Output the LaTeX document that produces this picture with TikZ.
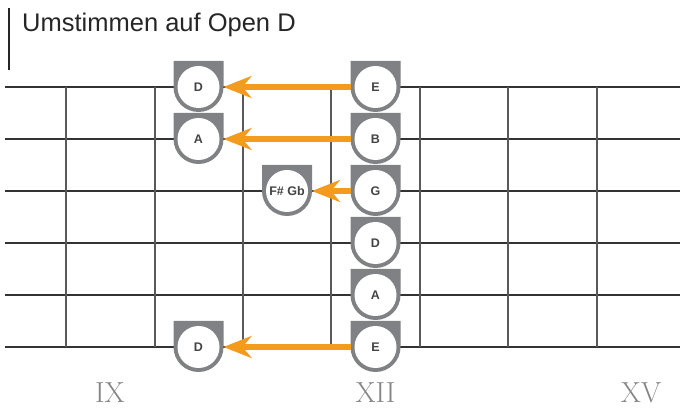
\documentclass[tikz,border=0pt]{standalone}
\usepackage{fontspec}
\setmainfont{Liberation Sans}
\newfontfamily\numfont{Latin Modern Roman}
\usetikzlibrary{arrows.meta}
\definecolor{mkgray}{HTML}{808184}
\definecolor{txgray}{HTML}{444444}
\definecolor{orng}{HTML}{F39A1F}
\definecolor{numgray}{HTML}{858585}
\tikzset{
  stringline/.style={draw=black!80, line width=1.4pt},
  fretline/.style={draw=black!65, line width=1.8pt},
  notec/.style={circle, fill=white, minimum size=42pt, inner sep=0pt, outer sep=4pt,
     font=\fontsize{12.5}{13}\selectfont\bfseries, text=txgray},
  arr/.style={draw=orng, line width=6pt, -{Stealth[length=28pt, width=22pt, inset=9pt]}},
  roman/.style={font=\numfont\fontsize{29}{30}\selectfont, text=numgray, anchor=base, inner sep=0pt},
}
\newcommand{\mkr}[4]{%
  \fill[mkgray] (#2-25,#3) -- (#2-25,#3+26) -- (#2+25,#3+26) -- (#2+25,#3)
     arc[start angle=0, end angle=-180, radius=25pt] -- cycle;
  \node[notec] (#1) at (#2,#3) {#4};
}
\begin{document}
\begin{tikzpicture}[x=1pt,y=1pt]
\useasboundingbox (0,0) rectangle (680,407);
% title
\draw[draw=black!85, line width=2.2pt] (9,399) -- (9,337);
\node[anchor=base west, inner sep=0pt, font=\fontsize{25.5}{27}\selectfont, text=black!85] (title) at (22,375) {Umstimmen auf Open D};
% strings
\foreach \y in {320,268,216,164,112,60} \draw[stringline] (5,\y) -- (680,\y);
% frets
\foreach \x in {66,155,243,331,420,508,597} \draw[fretline] (\x,60) -- (\x,320);
% markers
\mkr{D1}{198.5}{320}{D}
\mkr{A2}{198.5}{268}{A}
\mkr{D6}{198.5}{60}{D}
\mkr{FG}{287}{216}{F\# Gb}
\mkr{E1}{375.5}{320}{E}
\mkr{B2}{375.5}{268}{B}
\mkr{G3}{375.5}{216}{G}
\mkr{D4}{375.5}{164}{D}
\mkr{A5}{375.5}{112}{A}
\mkr{E6}{375.5}{60}{E}
% arrows
\draw[arr] (E1.west) -- (D1.east);
\draw[arr] (B2.west) -- (A2.east);
\draw[arr] (G3.west) -- (FG.east);
\draw[arr] (E6.west) -- (D6.east);
% fret numbers
\node[roman] (n9) at (110,5) {IX};
\node[roman] (n12) at (375.5,5) {XII};
\node[roman] (n15) at (641,5) {XV};
\end{tikzpicture}
\end{document}
